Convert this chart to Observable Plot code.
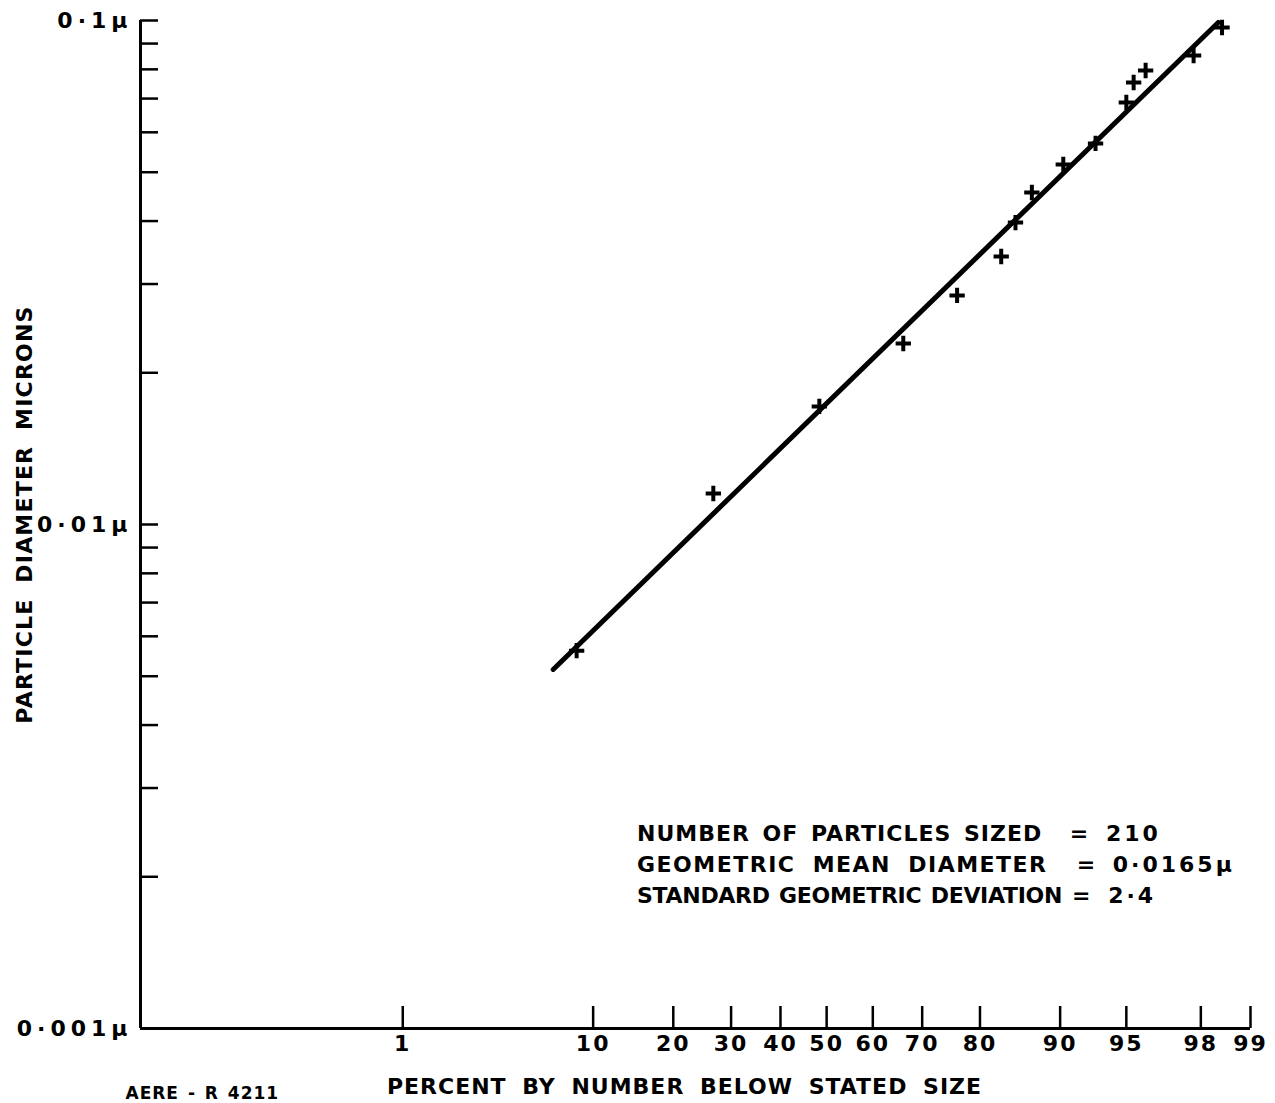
<!DOCTYPE html>
<html>
<head>
<meta charset="utf-8">
<script src="https://cdn.jsdelivr.net/npm/d3@7"></script>
<script src="https://cdn.jsdelivr.net/npm/@observablehq/plot@0.6"></script>
<style>
html, body { margin: 0; padding: 0; background: #fff; }
#chart svg { display: block; }
g[aria-label="y-axis tick label"] text { letter-spacing: 5px; }
g[aria-label="x-axis tick label"] text { letter-spacing: 2px; }
</style>
</head>
<body>
<div id="chart"></div>
<script>
// ---- data ----
const percents  = [8.5, 26.7, 48.4, 66.3, 76.3, 83.1, 85.0, 87.0, 90.3, 93.0, 95.0, 95.4, 96.0, 97.8, 98.5];
const diameters = [0.00562, 0.01152, 0.01715, 0.02286, 0.02848, 0.03402, 0.03973, 0.04557, 0.05179, 0.05702, 0.06877, 0.07533, 0.07957, 0.08523, 0.09685];

const fitPercents  = [6.67, 98.42];
const fitDiameters = [0.005157, 0.0991];

const xTickPercents = [1, 10, 20, 30, 40, 50, 60, 70, 80, 90, 95, 98, 99];
const xTickLabels   = ["1", "10", "20", "30", "40", "50", "60", "70", "80", "90", "95", "98", "99"];
const xDomainPercents = [0.0083, 99];

const yMajor       = [0.001, 0.01, 0.1];
const yMajorLabels = ["0·001μ", "0·01μ", "0·1μ"];
const yMinor = [0.002, 0.003, 0.004, 0.005, 0.006, 0.007, 0.008, 0.009, 0.01,
                0.02, 0.03, 0.04, 0.05, 0.06, 0.07, 0.08, 0.09, 0.1];

const xTitle = "PERCENT BY NUMBER BELOW STATED SIZE";
const yTitle = "PARTICLE DIAMETER MICRONS";
const reportRef = "AERE - R 4211";

const noteLabels    = ["NUMBER OF PARTICLES SIZED", "GEOMETRIC MEAN DIAMETER", "STANDARD GEOMETRIC DEVIATION"];
const noteValues    = ["= 210", "= 0·0165μ", "= 2·4"];
const noteDiameters = [0.00243, 0.00211, 0.00183];
const noteLabelPercent  = 14.9;
const noteValuePercents = [90.9, 91.5, 91.1];

// ---- probability (normal quantile) transform for the x axis ----
function probit(p) {
  const a = [-3.969683028665376e+01, 2.209460984245205e+02, -2.759285104469687e+02, 1.383577518672690e+02, -3.066479806614716e+01, 2.506628277459239e+00];
  const b = [-5.447609879822406e+01, 1.615858368580409e+02, -1.556989798598866e+02, 6.680131188771972e+01, -1.328068155288572e+01];
  const c = [-7.784894002430293e-03, -3.223964580411365e-01, -2.400758277161838e+00, -2.549732539343734e+00, 4.374664141464968e+00, 2.938163982698783e+00];
  const d = [7.784695709041462e-03, 3.224671290700398e-01, 2.445134137142996e+00, 3.754408661907416e+00];
  const pl = 0.02425, ph = 1 - pl;
  let q, r;
  if (p < pl) {
    q = Math.sqrt(-2 * Math.log(p));
    return (((((c[0]*q+c[1])*q+c[2])*q+c[3])*q+c[4])*q+c[5]) / ((((d[0]*q+d[1])*q+d[2])*q+d[3])*q+1);
  }
  if (p <= ph) {
    q = p - 0.5; r = q * q;
    return (((((a[0]*r+a[1])*r+a[2])*r+a[3])*r+a[4])*r+a[5])*q / (((((b[0]*r+b[1])*r+b[2])*r+b[3])*r+b[4])*r+1);
  }
  q = Math.sqrt(-2 * Math.log(1 - p));
  return -(((((c[0]*q+c[1])*q+c[2])*q+c[3])*q+c[4])*q+c[5]) / ((((d[0]*q+d[1])*q+d[2])*q+d[3])*q+1);
}
const zOf = pct => probit(pct / 100);

const points = percents.map((p, i) => ({p, d: diameters[i]}));
const fit = fitPercents.map((p, i) => ({p, d: fitDiameters[i]}));
const xTickZ = xTickPercents.map(zOf);
const xLabelByZ = new Map(xTickZ.map((z, i) => [z, xTickLabels[i]]));
const yLabelByValue = new Map(yMajor.map((v, i) => [v, yMajorLabels[i]]));
const notes = noteLabels.map((label, i) => ({label, value: noteValues[i], d: noteDiameters[i], vp: noteValuePercents[i]}));

const font = "'DejaVu Sans', sans-serif";
const fs = 22;

const chart = Plot.plot({
  width: 1275,
  height: 1103,
  marginLeft: 140,
  marginRight: 25,
  marginTop: 20,
  marginBottom: 75,
  style: {fontFamily: font, background: "white", color: "black"},
  x: {type: "linear", domain: xDomainPercents.map(zOf)},
  y: {type: "log", domain: [yMajor[0], yMajor[yMajor.length - 1]]},
  marks: [
    Plot.ruleX([zOf(xDomainPercents[0])], {stroke: "black", strokeWidth: 3}),
    Plot.ruleY([yMajor[0]], {stroke: "black", strokeWidth: 3}),
    Plot.axisY(yMinor, {anchor: "left", tickSize: 18, dx: 18, tickFormat: () => "", label: null, strokeWidth: 2.5}),
    Plot.axisY(yMajor, {anchor: "left", tickSize: 0, tickPadding: 8, label: null,
      tickFormat: v => yLabelByValue.get(v), fontSize: fs, fontWeight: "bold"}),
    Plot.axisX(xTickZ, {anchor: "bottom", tickSize: 22, dy: -22, tickFormat: () => "", label: null, strokeWidth: 2.5}),
    Plot.axisX(xTickZ, {anchor: "bottom", tickSize: 0, tickPadding: 7, label: null,
      tickFormat: z => xLabelByZ.get(z), fontSize: fs, fontWeight: "bold"}),
    Plot.text([yTitle], {text: d => d, frameAnchor: "left", rotate: -90, dx: -116, dy: -10,
      textAnchor: "middle", lineAnchor: "middle", fontSize: fs, fontWeight: "bold"}),
    Plot.text([xTitle], {text: d => d, frameAnchor: "bottom", dx: -11, dy: 58,
      textAnchor: "middle", lineAnchor: "middle", fontSize: fs, fontWeight: "bold"}),
    Plot.text([reportRef], {text: d => d, frameAnchor: "bottom-left", dx: -15, dy: 65,
      textAnchor: "start", lineAnchor: "middle", fontSize: 17, fontWeight: "bold"}),
    Plot.line(fit, {x: d => zOf(d.p), y: d => d.d, stroke: "black", strokeWidth: 5, strokeLinecap: "round"}),
    Plot.dot(points, {x: d => zOf(d.p), y: d => d.d, symbol: "plus", r: 5, stroke: "black", strokeWidth: 4}),
    Plot.text(notes, {x: () => zOf(noteLabelPercent), y: d => d.d, text: d => d.label,
      textAnchor: "start", lineAnchor: "middle", fontSize: fs, fontWeight: "bold"}),
    Plot.text(notes, {x: d => zOf(d.vp), y: d => d.d, text: d => d.value,
      textAnchor: "start", lineAnchor: "middle", fontSize: fs, fontWeight: "bold"})
  ]
});

// letter / word spacing to mimic the stencil lettering of the original
const spacing = new Map([
  [xTitle, ["1px", "7px"]],
  [yTitle, ["1.2px", "7px"]],
  [reportRef, ["1px", "2px"]],
  [noteLabels[0], ["1px", "4px"]],
  [noteLabels[1], ["1.5px", "8px"]],
  [noteLabels[2], ["-0.3px", "2px"]],
  ...noteValues.map(t => [t, ["3px", "4px"]])
]);
d3.select(chart).selectAll("text").each(function() {
  const s = spacing.get(this.textContent);
  if (s) {
    this.style.letterSpacing = s[0];
    this.style.wordSpacing = s[1];
  }
});

document.getElementById("chart").appendChild(chart);
</script>
</body>
</html>
